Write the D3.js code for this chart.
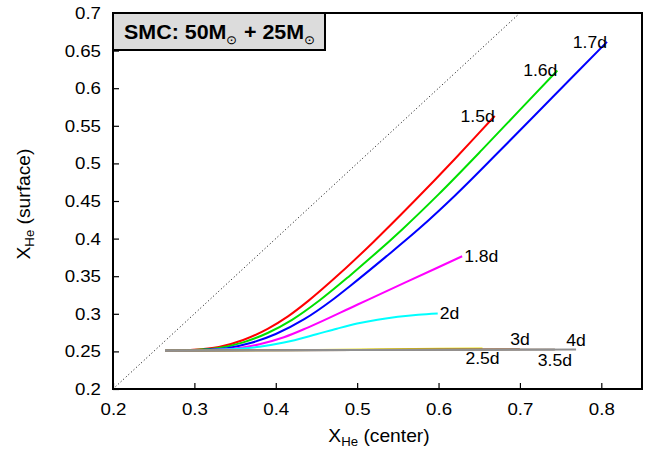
<!DOCTYPE html>
<html><head><meta charset="utf-8">
<script src="https://cdn.jsdelivr.net/npm/d3@7"></script>
<style>body{margin:0;background:#fff}svg{font-family:"Liberation Sans",Arial,sans-serif}</style>
</head><body><svg id="c" width="665" height="451"></svg>
<script>
const xTicks = [0.2,0.3,0.4,0.5,0.6,0.7,0.8];
const yTicks = [0.2,0.25,0.3,0.35,0.4,0.45,0.5,0.55,0.6,0.65,0.7];
const seriesNames = ["1.5d","1.6d","1.7d","1.8d","2d","2.5d","3d","3.5d","4d"];
const seriesColors = ["#ff0000","#00e000","#0000ff","#ff00ff","#00ffff","#e8e000","#a0602d","#a08878","#909090"];
const s15 = [[0.264,0.251],[0.295,0.252],[0.33,0.2558],[0.36,0.2651],[0.39,0.280],[0.415,0.2966],[0.44,0.3172],[0.48,0.3548],[0.52,0.3956],[0.57,0.4496],[0.62,0.5059],[0.645,0.5349],[0.669,0.5631]];
const s16 = [[0.264,0.251],[0.30,0.252],[0.33,0.2545],[0.36,0.262],[0.39,0.2745],[0.42,0.292],[0.454,0.318],[0.491,0.3507],[0.52,0.3777],[0.556,0.4129],[0.60,0.4588],[0.653,0.5176],[0.70,0.5712],[0.746,0.6236]];
const s17 = [[0.264,0.251],[0.31,0.252],[0.34,0.2543],[0.37,0.2614],[0.40,0.2731],[0.435,0.2928],[0.469,0.318],[0.491,0.3367],[0.534,0.3747],[0.577,0.414],[0.62,0.457],[0.675,0.5164],[0.74,0.5879],[0.807,0.6616]];
const s18 = [[0.264,0.251],[0.32,0.252],[0.35,0.2539],[0.38,0.2595],[0.41,0.2688],[0.44,0.282],[0.50,0.312],[0.56,0.342],[0.629,0.3765]];
const s2 = [[0.264,0.251],[0.32,0.252],[0.35,0.2531],[0.38,0.2562],[0.41,0.2618],[0.45,0.2728],[0.475,0.2802],[0.50,0.2870],[0.525,0.2921],[0.55,0.296],[0.575,0.2988],[0.599,0.3004]];
const s25 = [[0.264,0.251],[0.45,0.252],[0.654,0.254]];
const s3 = [[0.264,0.251],[0.50,0.252],[0.700,0.253]];
const s35 = [[0.264,0.251],[0.50,0.252],[0.743,0.2525]];
const s4 = [[0.264,0.251],[0.50,0.252],[0.769,0.2525]];
const seriesData = [s15,s16,s17,s18,s2,s25,s3,s35,s4];
const labelPos = [["end",0,6],["end",0,6],["end",0,6],["start",2,6],["start",2,6],["middle",0,16],["middle",0,-4],["middle",0,16],["middle",0,-4]];

const SX = 1.1;
const svg = d3.select("#c");
const L=113,R=642,T=13,B=389;
const x = d3.scaleLinear().domain([0.2,0.85]).range([L,R]);
const y = d3.scaleLinear().domain([0.2,0.7]).range([B,T]);

svg.append("line").attr("x1",x(0.2)).attr("y1",y(0.2)).attr("x2",x(0.7)).attr("y2",y(0.7))
  .attr("stroke","#000").attr("stroke-width",1).attr("stroke-dasharray","1,2.5");

const line = d3.line().x(d=>x(d[0])).y(d=>y(d[1])).curve(d3.curveMonotoneX);
seriesData.forEach((s,i)=>{
  svg.append("path").attr("d",line(s)).attr("fill","none")
    .attr("stroke",seriesColors[i]).attr("stroke-width",2);
});
seriesData.forEach((s,i)=>{
  const e=s[s.length-1], p=labelPos[i];
  svg.append("text").attr("transform",`translate(${x(e[0])+p[1]},${y(e[1])+p[2]}) scale(${SX},1)`)
    .attr("text-anchor",p[0]).attr("font-size",16).text(seriesNames[i]);
});

const xa = svg.append("g").attr("transform",`translate(0,${B})`)
  .call(d3.axisBottom(x).tickValues(xTicks).tickSize(-6).tickPadding(14).tickFormat(d3.format("")));
const ya = svg.append("g").attr("transform",`translate(${L},0)`)
  .call(d3.axisLeft(y).tickValues(yTicks).tickSize(-6).tickPadding(12).tickFormat(d3.format("")));
[xa,ya].forEach(a=>{
  a.select(".domain").remove();
  a.selectAll("text").attr("font-size",17).attr("font-family","Liberation Sans, Arial, sans-serif").attr("fill","#000")
    .each(function(){const t=d3.select(this);const ox=+t.attr("x")||0;t.attr("x",ox/SX).attr("transform",`scale(${SX},1)`);});
  a.selectAll("line").attr("stroke","#000").attr("stroke-width",1.2);
});

svg.append("rect").attr("x",L).attr("y",T).attr("width",R-L).attr("height",B-T)
  .attr("fill","none").attr("stroke","#000").attr("stroke-width",2);

svg.append("rect").attr("x",L).attr("y",T).attr("width",212).attr("height",37)
  .attr("fill","#dcdcdc").attr("stroke","#000").attr("stroke-width",2);
const t = svg.append("text").attr("transform",`translate(124,38.5) scale(${SX},1)`).attr("font-size",19.5).attr("font-weight","bold");
t.append("tspan").text("SMC: 50M");
t.append("tspan").attr("font-size",12).attr("font-weight","normal").attr("dy",5).text("\u2299");
t.append("tspan").attr("dy",-5).text(" + 25M");
t.append("tspan").attr("font-size",12).attr("font-weight","normal").attr("dy",5).text("\u2299");

const xl = svg.append("text").attr("transform",`translate(379,442) scale(${SX},1)`).attr("text-anchor","middle").attr("font-size",17.5);
xl.append("tspan").text("X");
xl.append("tspan").attr("font-size",12).attr("dy",4).text("He");
xl.append("tspan").attr("dy",-4).text(" (center)");
const yl = svg.append("text").attr("transform",`translate(30,204) rotate(-90) scale(${SX},1)`).attr("text-anchor","middle").attr("font-size",17.5);
yl.append("tspan").text("X");
yl.append("tspan").attr("font-size",12).attr("dy",4).text("He");
yl.append("tspan").attr("dy",-4).text(" (surface)");
</script></body></html>
